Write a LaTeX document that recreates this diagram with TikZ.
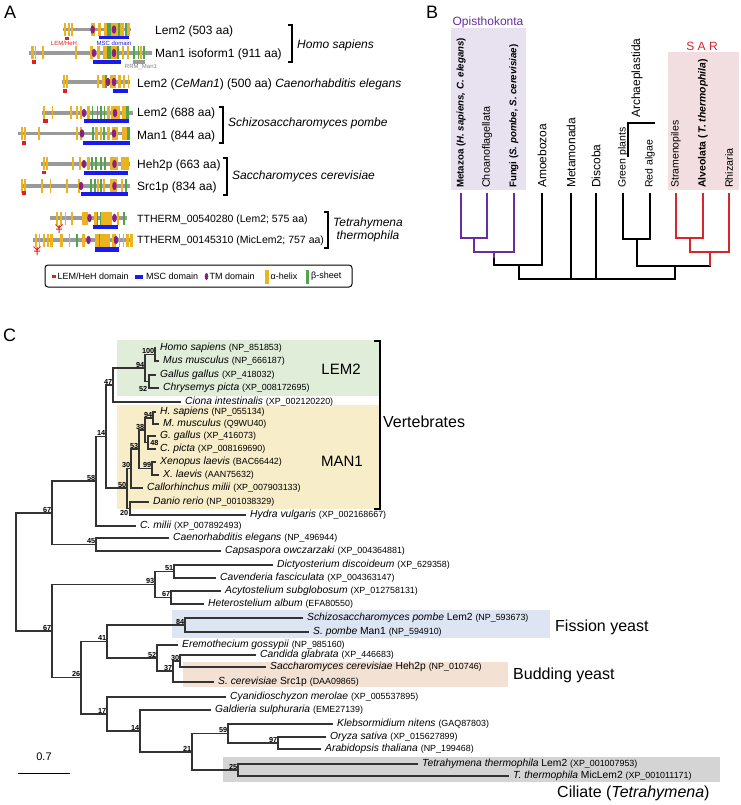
\documentclass[tikz,border=0pt]{standalone}
\usepackage{fontspec}
\setmainfont{Liberation Sans}
\usetikzlibrary{calc}
\definecolor{hxc}{HTML}{EBB320}
\definecolor{shc}{HTML}{4FA64A}
\definecolor{tmc}{HTML}{8A1F84}
\definecolor{lemc}{HTML}{E0201F}
\definecolor{mscc}{HTML}{1A1AF0}
\definecolor{protc}{HTML}{9A9A9A}
\definecolor{opibox}{HTML}{E8E2F0}
\definecolor{opic}{HTML}{6A2C9E}
\definecolor{sarbox}{HTML}{F2DEE0}
\definecolor{sarc}{HTML}{D8252C}
\definecolor{lembox}{HTML}{E0EDD8}
\definecolor{manbox}{HTML}{F7EDC8}
\definecolor{fisbox}{HTML}{DDE4F2}
\definecolor{budbox}{HTML}{F3E2D3}
\definecolor{cilbox}{HTML}{D4D4D4}
\newcommand\FS[1]{\fontsize{#1}{#1}\selectfont}
\newcommand\acc[1]{{\FS{8.9}#1}}
\newcommand\protrow[6]{%
 \draw[protl] (#2,#1) -- (#3,#1);
 \foreach \a/\b in {#4} {\fill[hxc] (\a,#1-6.5) rectangle (\b,#1+6.5);}
 \foreach \a/\b in {#5} {\fill[shc] (\a,#1-6.5) rectangle (\b,#1+6.5);}
 \foreach \a in {#6} {\fill[tmc] (\a,#1) ellipse [x radius=2.3pt, y radius=4.2pt];}
}
\begin{document}
\begin{tikzpicture}[x=1pt,y=-1pt,
  protl/.style={line width=3.6pt, protc},
  atxt/.style={anchor=west, inner sep=0, font=\FS{12}},
  spec/.style={anchor=west, inner sep=0, font=\FS{12}\itshape},
  brk/.style={line width=1.3pt, black},
  leaf/.style={anchor=west, inner xsep=4pt, inner ysep=0.5pt, font=\FS{10.3}},
  sup/.style={anchor=south east, inner sep=0.6pt, font=\FS{7.3}\bfseries},
  br/.style={line width=1.1pt, draw=black!80},
  pbr/.style={line width=2.8pt, draw=opic},
  rbr/.style={line width=2.8pt, draw=sarc},
  kbr/.style={line width=1.1pt, draw=black},
  vlab/.style={rotate=90, anchor=west, inner sep=0},
  big/.style={anchor=west, inner sep=0, font=\FS{16}},
  letter/.style={anchor=west, inner sep=0, font=\FS{18}}]
\useasboundingbox (0,0) rectangle (740,805);
\fill[white] (0,0) rectangle (740,805);

% ---------------- Panel A ----------------
\node[letter] (lA) at (4,12) {A};
\protrow{29.5}{63}{131}{63.5/65.5,67.5/69.5,71/72.5,90.5/95,97.5/101,103.5/107,111/117.5,119.5/123.5,126.5/129.5}{107/111,117.5/119.5,124.5/126.5}{92.7,114}
\fill[lemc] (65,37) rectangle (69,40.5);
\fill[mscc] (99,36) rectangle (129,39.5);
\node[inner sep=0, font=\FS{6}, text=lemc] (lemlab) at (64,43.5) {LEM/HeH};
\node[inner sep=0, font=\FS{6}, text=mscc] (msclab) at (114,43.5) {MSC domain};

\protrow{53}{29}{152}{31/33.5,34.5/36,41.5/43.5,74.5/76.5,89.5/92.5,97/100,103/106.5,111/117,122/124,127/128.5,140/141.5}{106.5/111,117/119,133/135,137.5/139,143/144.5}{94,114}
\fill[lemc] (32,60) rectangle (36,64);
\fill[mscc] (93,60) rectangle (121,64);
\fill[protc] (133,60) rectangle (145,64);
\node[inner sep=0, font=\FS{6}, text=black!50] (rrmlab) at (141,67.5) {RRM\_Man1};

\protrow{82}{62}{130}{63/65,66/68,96.5/99,101.5/105,110/115.5,118/120.5,123/125,127.5/129}{105/107}{108,114}
\fill[lemc] (63,89) rectangle (67,93);
\fill[mscc] (113,89) rectangle (128,93);

\protrow{113}{42}{133}{43/44.5,51.5/53,70/71.5,76/78,80/81.5,86.5/90,106.5/110,111/120,121.5/126}{91.5/93,96.5/98,100/101.5,103.5/105,126/129}{84,115}
\fill[lemc] (43,119) rectangle (48,123);
\fill[mscc] (84,119) rectangle (129,123);

\protrow{133.5}{18}{130}{20.5/22.5,24/26,38/40,76/78,80/81.5,95/98,100/101.5,106.5/110,111.5/118,121.5/126.5}{91.5/93.5,102.5/105,127/130}{82,114}
\fill[lemc] (22,141) rectangle (26,145);
\fill[mscc] (83,141) rectangle (130,145);

\protrow{164}{41}{130}{42.5/44.5,45.5/47.5,71.5/74,79/81,87/90,110/117.5,121/128.5}{90.5/92.5,95/97,100/102,104/106}{84,114.5}
\fill[lemc] (42,171) rectangle (46,174.5);
\fill[mscc] (84,171) rectangle (128,175);

\protrow{186}{21}{130}{21/22.5,23.5/25.5,41/43,49.5/51,65.5/67.5,77.5/79.5,97/99,103/105,110/117,121/122.5}{90/92,94/96,100/101.5,125/127}{81,114.5}
\fill[lemc] (22,191) rectangle (26,195);
\fill[mscc] (81,192) rectangle (128,196);

\protrow{218}{50}{127}{56/57.5,60/61.5,64.5/66,71/72.5,82/87.5,94/96.5,101/111.5,116.5/119}{96.5/98,99.5/101,123/125}{89.5,114.5}
\draw[lemc, line width=1pt] (55.5,224.5) -- (59,228) -- (62.5,224.5) (59,225) -- (59,233) (56,229) -- (62,229);
\fill[mscc] (93,225) rectangle (118,229);

\protrow{240}{33}{133}{35/36.5,38.5/40,42.5/44.5,46.5/48.5,50/52.5,59.5/63,68.5/70,81.5/85,95/98.5,100/110,112/115.5,118.5/120,122.5/124,126/128.5,130/133}{76/77.5,98.5/100}{88.5,116}
\draw[lemc, line width=1pt] (33.5,246.5) -- (37,250) -- (40.5,246.5) (37,247) -- (37,255) (34,251) -- (40,251);
\fill[mscc] (95,247) rectangle (119,252);

\node[atxt] (a1) at (155,31) {Lem2 (503 aa)};
\node[atxt] (a2) at (155,54) {Man1 isoform1 (911 aa)};
\node[atxt] (a3) at (137,84) {Lem2 (\textit{CeMan1}) (500 aa) \textit{Caenorhabditis elegans}};
\node[atxt] (a4) at (137,113) {Lem2 (688 aa)};
\node[atxt] (a5) at (137,136) {Man1 (844 aa)};
\node[atxt] (a6) at (137,165) {Heh2p (663 aa)};
\node[atxt] (a7) at (137,187) {Src1p (834 aa)};
\node[atxt, font=\FS{10.5}] (a8) at (137,220) {TTHERM\_00540280 (Lem2; 575 aa)};
\node[atxt, font=\FS{10.5}] (a9) at (137,241) {TTHERM\_00145310 (MicLem2; 757 aa)};

\draw[brk] (288,25) -- (292,25) -- (292,62) -- (288,62);
\node[spec] (hsap) at (297,45) {Homo sapiens};
\draw[brk] (219,107) -- (223,107) -- (223,143) -- (219,143);
\node[spec] (spom) at (228,123) {Schizosaccharomyces pombe};
\draw[brk] (223,158) -- (227,158) -- (227,195) -- (223,195);
\node[spec] (scer) at (232,176) {Saccharomyces cerevisiae};
\draw[brk] (324,212) -- (328,212) -- (328,248) -- (324,248);
\node[inner sep=0, font=\FS{12}\itshape, align=center] (tthe) at (368,230) {Tetrahymena\\[1pt]thermophila};

\draw[line width=1pt, rounded corners=3pt] (45,265) rectangle (352,287);
\fill[lemc] (52,274.5) rectangle (55.5,278);
\node[atxt, font=\FS{9}] (lg1) at (57.5,276.5) {LEM/HeH domain};
\fill[mscc] (135,275) rectangle (143,278.5);
\node[atxt, font=\FS{9}] (lg2) at (146,276.5) {MSC domain};
\fill[tmc] (206.5,276.5) ellipse [x radius=1.8pt, y radius=3.5pt];
\node[atxt, font=\FS{9}] (lg3) at (209.5,276.5) {TM domain};
\fill[hxc] (265,270) rectangle (268.5,283.5);
\node[atxt, font=\FS{9}] (lg4) at (270.5,276.5) {α-helix};
\fill[shc] (306,270) rectangle (308.5,283.5);
\node[atxt, font=\FS{9}] (lg5) at (311,276.5) {β-sheet};

% ---------------- Panel B ----------------
\node[letter] (lB) at (426,12) {B};
\fill[opibox] (451,28) rectangle (526,190);
\fill[sarbox] (668,52) rectangle (739,190);
\node[inner sep=0, font=\FS{12}, text=opic] (opi) at (488,22) {Opisthokonta};
\node[inner sep=0, font=\FS{12}, text=sarc] (sar) at (702,46) {S A R};

\node[vlab, font=\FS{9.7}\bfseries] (vMet) at (461,188) {Metazoa (\textit{H. sapiens, C. elegans})};
\node[vlab, font=\FS{10.8}] (vCho) at (487,188) {Choanoflagellata};
\node[vlab, font=\FS{9.7}\bfseries] (vFun) at (514,188) {Fungi (\textit{S. pombe, S. cerevisiae})};
\node[vlab, font=\FS{12}] (vAmo) at (542,188) {Amoebozoa};
\node[vlab, font=\FS{12}] (vMeta) at (571,188) {Metamonada};
\node[vlab, font=\FS{12}] (vDis) at (596,188) {Discoba};
\node[vlab, font=\FS{10.5}] (vGre) at (623,188) {Green plants};
\node[vlab, font=\FS{10.5}] (vRed) at (650,188) {Red algae};
\node[vlab, font=\FS{12}] (vArc) at (637,118) {Archaeplastida};
\node[vlab, font=\FS{10.5}] (vStr) at (676,188) {Stramenopiles};
\node[vlab, font=\FS{10.4}\bfseries] (vAlv) at (703,188) {Alveolata (\,\textit{T. thermophila})};
\node[vlab, font=\FS{10.7}] (vRhi) at (729,188) {Rhizaria};
\draw[kbr] (655,123) -- (628,123) -- (628,157);

\coordinate (tMet) at (461,193);
\coordinate (tCho) at (487,193);
\coordinate (tFun) at (514,193);
\coordinate (tAmo) at (542,193);
\coordinate (tMeta) at (571,193);
\coordinate (tDis) at (596,193);
\coordinate (tGre) at (623,193);
\coordinate (tRed) at (650,193);
\coordinate (tStr) at (676,193);
\coordinate (tAlv) at (703,193);
\coordinate (tRhi) at (729,193);
\coordinate (B1) at (474,238);
\coordinate (B2) at (494,252);
\coordinate (B3) at (519,265);
\coordinate (BR) at (597,279);
\coordinate (Arch) at (637,239);
\coordinate (S1) at (690,238);
\coordinate (SARn) at (710,252);
\coordinate (AS) at (675,266);

\draw[kbr] (B2) |- (B3) -| (tAmo);
\draw[kbr] (B3) |- (BR) -| (AS);
\draw[kbr] (tMeta) -- (tMeta |- BR);
\draw[kbr] (tDis) -- (tDis |- BR);
\draw[kbr] (tGre) |- (Arch) -| (tRed);
\draw[kbr] (Arch) |- (AS) -| (SARn);
\draw[pbr] (tMet) |- (B1) -| (tCho);
\draw[pbr] (B1) |- (B2) -| (tFun);
\draw[pbr] (B2) -- ++(0,6);
\draw[rbr] (tStr) |- (S1) -| (tAlv);
\draw[rbr] (S1) |- (SARn) -| (tRhi);
\draw[rbr] (SARn) -- (SARn |- AS);

% ---------------- Panel C ----------------
\node[letter] (lC) at (3,335) {C};
\fill[lembox] (117,340) rectangle (379,396);
\fill[manbox] (117,405) rectangle (379,509);
\fill[fisbox] (172,610) rectangle (550,638);
\fill[budbox] (183,662) rectangle (508,687);
\fill[cilbox] (223,757) rectangle (720,782);

\node[inner sep=0, font=\FS{15}] (tLEM) at (341,369) {LEM2};
\node[inner sep=0, font=\FS{15}] (tMAN) at (342,461) {MAN1};
\draw[brk] (374,341) -- (380,341) -- (380,509) -- (374,509);
\node[big] (tVer) at (383,422) {Vertebrates};
\node[big] (tFis) at (555,627) {Fission yeast};
\node[big] (tBud) at (513,675) {Budding yeast};
\node[big] (tCil) at (557,793) {Ciliate (\textit{Tetrahymena})};

\node[leaf] (Lhs2) at (156,348) {\textit{Homo sapiens} \acc{(NP\_851853)}};
\node[leaf] (Lmm2) at (159,361) {\textit{Mus musculus} \acc{(NP\_666187)}};
\node[leaf] (Lgg2) at (156,375) {\textit{Gallus gallus} \acc{(XP\_418032)}};
\node[leaf] (Lcp2) at (159,388) {\textit{Chrysemys picta} \acc{(XP\_008172695)}};
\node[leaf] (Lci) at (181,402) {\textit{Ciona intestinalis} \acc{(XP\_002120220)}};
\node[leaf] (Lhs1) at (156,412) {\textit{H. sapiens} \acc{(NP\_055134)}};
\node[leaf] (Lmm1) at (159,424) {\textit{M. musculus} \acc{(Q9WU40)}};
\node[leaf] (Lgg1) at (156,436) {\textit{G. gallus} \acc{(XP\_416073)}};
\node[leaf] (Lcp1) at (156,449) {\textit{C. picta} \acc{(XP\_008169690)}};
\node[leaf] (Lxl1) at (156,462) {\textit{Xenopus laevis} \acc{(BAC66442)}};
\node[leaf] (Lxl2) at (159,475) {\textit{X. laevis} \acc{(AAN75632)}};
\node[leaf] (Lcm1) at (143,488) {\textit{Callorhinchus milii} \acc{(XP\_007903133)}};
\node[leaf] (Ldr) at (149,502) {\textit{Danio rerio} \acc{(NP\_001038329)}};
\node[leaf] (Lhv) at (246,515) {\textit{Hydra vulgaris} \acc{(XP\_002168667)}};
\node[leaf] (Lcm2) at (136,526) {\textit{C. milii} \acc{(XP\_007892493)}};
\node[leaf] (Lce) at (169,538) {\textit{Caenorhabditis elegans} \acc{(NP\_496944)}};
\node[leaf] (Lco) at (221,551) {\textit{Capsaspora owczarzaki} \acc{(XP\_004364881)}};
\node[leaf] (Ldd) at (273,565) {\textit{Dictyosterium discoideum} \acc{(XP\_629358)}};
\node[leaf] (Lcf) at (216,578) {\textit{Cavenderia fasciculata} \acc{(XP\_004363147)}};
\node[leaf] (Las) at (221,591) {\textit{Acytostelium subglobosum} \acc{(XP\_012758131)}};
\node[leaf] (Lha) at (204,604) {\textit{Heterostelium album} \acc{(EFA80550)}};
\node[leaf] (Lsp2) at (303,618) {\textit{Schizosaccharomyces pombe} Lem2 \acc{(NP\_593673)}};
\node[leaf] (Lsp1) at (309,632) {\textit{S. pombe} Man1 \acc{(NP\_594910)}};
\node[leaf] (Leg) at (178,645) {\textit{Eremothecium gossypii} \acc{(NP\_985160)}};
\node[leaf] (Lcg) at (256,655) {\textit{Candida glabrata} \acc{(XP\_446683)}};
\node[leaf] (Lsc2) at (266,667) {\textit{Saccharomyces cerevisiae} Heh2p \acc{(NP\_010746)}};
\node[leaf] (Lsc1) at (214,682) {\textit{S. cerevisiae} Src1p \acc{(DAA09865)}};
\node[leaf] (Lcym) at (226,697) {\textit{Cyanidioschyzon merolae} \acc{(XP\_005537895)}};
\node[leaf] (Lgs) at (211,710) {\textit{Galdieria sulphuraria} \acc{(EME27139)}};
\node[leaf] (Lkn) at (333,724) {\textit{Klebsormidium nitens} \acc{(GAQ87803)}};
\node[leaf] (Los) at (326,737) {\textit{Oryza sativa} \acc{(XP\_015627899)}};
\node[leaf] (Lath) at (321,749) {\textit{Arabidopsis thaliana} \acc{(NP\_199468)}};
\node[leaf] (Ltt2) at (418,764) {\textit{Tetrahymena thermophila} Lem2 \acc{(XP\_001007953)}};
\node[leaf] (Ltt1) at (509,776) {\textit{T. thermophila} MicLem2 \acc{(XP\_001011171)}};

\coordinate (N100) at (155,354.5);
\coordinate (N52a) at (149,381.5);
\coordinate (N94a) at (145,368);
\coordinate (N47) at (113,385);
\coordinate (N94b) at (153,418);
\coordinate (N48) at (148,442.5);
\coordinate (N38) at (145,430);
\coordinate (N99) at (152,468.5);
\coordinate (N53) at (139,449);
\coordinate (N30) at (131,468.5);
\coordinate (N20) at (130,508.5);
\coordinate (N50) at (127,488);
\coordinate (N14) at (106,436.5);
\coordinate (N58) at (96,481);
\coordinate (N45) at (96,544.5);
\coordinate (N67a) at (52,513);
\coordinate (N51) at (174,571.5);
\coordinate (N67b) at (171,597.5);
\coordinate (N93) at (155,584.5);
\coordinate (N84) at (185,625);
\coordinate (N30b) at (180,661);
\coordinate (N37) at (173,671);
\coordinate (N52b) at (157,658);
\coordinate (N41) at (107,641.5);
\coordinate (N97) at (278,743);
\coordinate (N59) at (228,733.5);
\coordinate (N25) at (238,770);
\coordinate (N21) at (192,752);
\coordinate (N14b) at (140,731);
\coordinate (N17) at (107,714);
\coordinate (N26) at (81,677.5);
\coordinate (N67c) at (52,631);
\coordinate (Nroot) at (16,572);

\draw[br] (Lhs2.west) -| (N100) |- (Lmm2.west);
\draw[br] (Lgg2.west) -| (N52a) |- (Lcp2.west);
\draw[br] (N100) -| (N94a) |- (N52a);
\draw[br] (N94a) -| (N47) |- (Lci.west);
\draw[br] (Lhs1.west) -| (N94b) |- (Lmm1.west);
\draw[br] (Lgg1.west) -| (N48) |- (Lcp1.west);
\draw[br] (N94b) -| (N38) |- (N48);
\draw[br] (Lxl1.west) -| (N99) |- (Lxl2.west);
\draw[br] (N38) -| (N53) |- (N99);
\draw[br] (N53) -| (N30) |- (Lcm1.west);
\draw[br] (Ldr.west) -| (N20) |- (Lhv.west);
\draw[br] (N30) -| (N50) |- (N20);
\draw[br] (N47) -| (N14) |- (N50);
\draw[br] (N14) -| (N58) |- (Lcm2.west);
\draw[br] (Lce.west) -| (N45) |- (Lco.west);
\draw[br] (N58) -| (N67a) |- (N45);
\draw[br] (Ldd.west) -| (N51) |- (Lcf.west);
\draw[br] (Las.west) -| (N67b) |- (Lha.west);
\draw[br] (N51) -| (N93) |- (N67b);
\draw[br] (Lsp2.west) -| (N84) |- (Lsp1.west);
\draw[br] (Lcg.west) -| (N30b) |- (Lsc2.west);
\draw[br] (N30b) -| (N37) |- (Lsc1.west);
\draw[br] (Leg.west) -| (N52b) |- (N37);
\draw[br] (N84) -| (N41) |- (N52b);
\draw[br] (Los.west) -| (N97) |- (Lath.west);
\draw[br] (Lkn.west) -| (N59) |- (N97);
\draw[br] (Ltt2.west) -| (N25) |- (Ltt1.west);
\draw[br] (N59) -| (N21) |- (N25);
\draw[br] (Lgs.west) -| (N14b) |- (N21);
\draw[br] (Lcym.west) -| (N17) |- (N14b);
\draw[br] (N41) -| (N26) |- (N17);
\draw[br] (N93) -| (N67c) |- (N26);
\draw[br] (N67a) -| (Nroot) |- (N67c);

\node[sup] (s100) at (N100) {100};
\node[sup, anchor=east] (s52a) at (148,389) {52};
\node[sup] (s94a) at (N94a) {94};
\node[sup] (s47) at (N47) {47};
\node[sup] (s94b) at (N94b) {94};
\node[sup, anchor=west] (s48) at (149.5,443) {48};
\node[sup] (s38) at (N38) {38};
\node[sup] (s99) at (N99) {99};
\node[sup] (s53) at (N53) {53};
\node[sup] (s30) at (N30) {30};
\node[sup, anchor=east] (s20) at (129,513) {20};
\node[sup] (s50) at (N50) {50};
\node[sup] (s14) at (N14) {14};
\node[sup] (s58) at (N58) {58};
\node[sup] (s45) at (N45) {45};
\node[sup] (s67a) at (N67a) {67};
\node[sup] (s51) at (N51) {51};
\node[sup] (s67b) at (N67b) {67};
\node[sup] (s93) at (N93) {93};
\node[sup] (s84) at (N84) {84};
\node[sup] (s30b) at (N30b) {30};
\node[sup] (s37) at (N37) {37};
\node[sup] (s52b) at (N52b) {52};
\node[sup] (s41) at (N41) {41};
\node[sup] (s97) at (N97) {97};
\node[sup] (s59) at (N59) {59};
\node[sup] (s25) at (N25) {25};
\node[sup] (s21) at (N21) {21};
\node[sup] (s14b) at (N14b) {14};
\node[sup] (s17) at (N17) {17};
\node[sup] (s26) at (N26) {26};
\node[sup] (s67c) at (N67c) {67};

\coordinate (sbA) at (18,773);
\coordinate (sbB) at (70,773);
\draw[line width=1pt] (sbA) -- (sbB);
\node[inner sep=0, font=\FS{11}] (sblab) at (44,757) {0.7};
\end{tikzpicture}
\end{document}
